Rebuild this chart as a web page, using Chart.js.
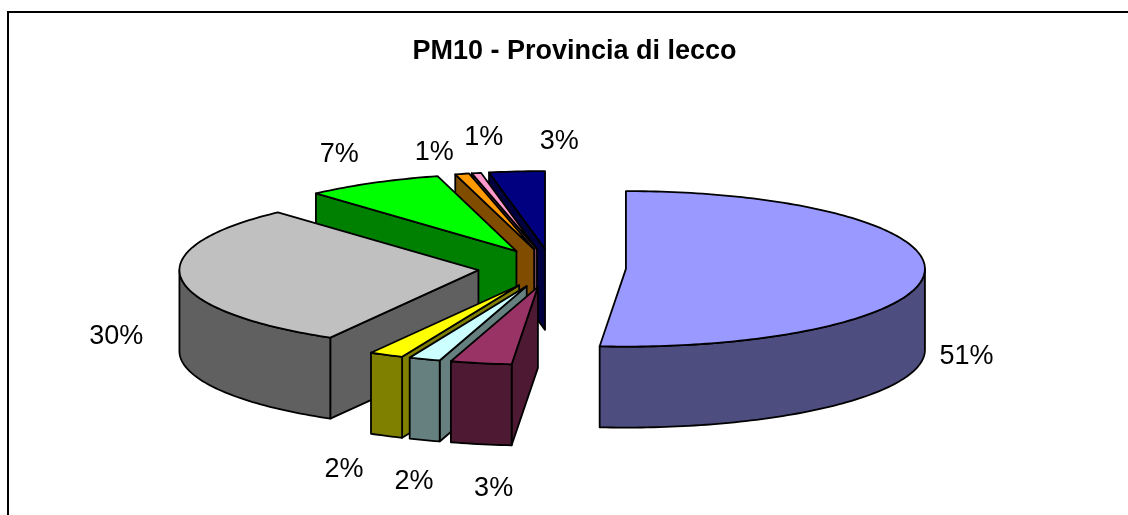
<!DOCTYPE html>
<html><head><meta charset="utf-8">
<style>html,body{margin:0;padding:0;background:#fff}#w{width:1128px;height:515px}</style>
<script src="https://cdn.jsdelivr.net/npm/chart.js@4/dist/chart.umd.min.js"></script>
</head><body><div id="w"><canvas id="c" width="1128" height="515"></canvas></div>
<script>
const categories = ['A','B','C','D','E','F','G','H','I'];
const values = [51.4, 3.3, 1.7, 1.85, 30.05, 7.45, 0.75, 0.5, 3];
const topColors = ['#9999FF','#993366','#CCFFFF','#FFFF00','#C0C0C0','#00FF00','#FF9900','#FF99CC','#000080'];
const wallColors = ['#4D4D80','#4D1933','#668080','#808000','#606060','#008000','#804C00','#804C66','#000040'];
const labelNudge = [[14,3],[18,37],[-1,35],[-30,27],[-37,-24],[-20,-22],[-21,-14],[13,-28],[45,-23]];

const CX = 552, CY = 268, SY = 0.26, EXPLODE = 74, DEPTH = 81, FONT = '27px "Liberation Sans", Arial, sans-serif';

function geom(a){
  const p = a.getProps(['startAngle','endAngle','outerRadius']);
  const mid = (p.startAngle + p.endAngle) / 2;
  const ox = CX + EXPLODE * Math.cos(mid), oy = EXPLODE * Math.sin(mid);
  const P = (t, r) => [ox + (r===undefined?p.outerRadius:r) * Math.cos(t), CY + SY * (oy + (r===undefined?p.outerRadius:r) * Math.sin(t))];
  return {s:p.startAngle, e:p.endAngle, mid, ox, oy, P, V:P(0,0), R:p.outerRadius};
}
function arcPts(g, s, e){
  const n = Math.max(2, Math.ceil((e - s) / 0.02)), pts = [];
  for (let i = 0; i <= n; i++) pts.push(g.P(s + (e - s) * i / n));
  return pts;
}
function poly(ctx, pts, fill){
  ctx.beginPath();
  pts.forEach((q, i) => i ? ctx.lineTo(q[0], q[1]) : ctx.moveTo(q[0], q[1]));
  ctx.closePath();
  ctx.fillStyle = fill; ctx.fill(); ctx.stroke();
}
function wall(ctx, pts, fill){
  const down = pts.slice().reverse().map(q => [q[0], q[1] + DEPTH]);
  poly(ctx, pts.concat(down), fill);
}

const pie3d = {
  id: 'pie3d',
  beforeDraw(chart){
    const ctx = chart.ctx;
    ctx.save(); ctx.fillStyle = '#fff'; ctx.fillRect(0,0,1128,515);
    ctx.strokeStyle = '#000'; ctx.lineWidth = 2;
    ctx.beginPath(); ctx.moveTo(8, 515); ctx.lineTo(8, 12); ctx.lineTo(1128, 12); ctx.stroke();
    ctx.restore();
  },
  beforeDatasetDraw(chart){
    const ctx = chart.ctx, arcs = chart.getDatasetMeta(0).data;
    const order = arcs.map((a, i) => i).sort((i, j) => Math.sin(geom(arcs[i]).mid) - Math.sin(geom(arcs[j]).mid));
    ctx.save();
    ctx.lineJoin = 'round'; ctx.strokeStyle = '#000'; ctx.lineWidth = 1.8;
    order.forEach(i => {
      const a = arcs[i], g = geom(a), ps = g.P(g.s), pe = g.P(g.e), wc = wallColors[i];
      if (ps[0] < g.V[0]) wall(ctx, [g.V, ps], wc);
      if (g.V[0] < pe[0]) wall(ctx, [pe, g.V], wc);
      const s = Math.max(g.s, 0), e = Math.min(g.e, Math.PI);
      if (e > s) wall(ctx, arcPts(g, s, e), wc);
      ctx.save();
      ctx.translate(g.ox - a.x, CY);
      ctx.scale(1, SY);
      ctx.translate(0, g.oy - a.y);
      a.draw(ctx);
      ctx.restore();
      ctx.beginPath();
      [g.V].concat(arcPts(g, g.s, g.e)).forEach((q, k) => k ? ctx.lineTo(q[0], q[1]) : ctx.moveTo(q[0], q[1]));
      ctx.closePath(); ctx.stroke();
    });
    ctx.fillStyle = '#000'; ctx.font = FONT; ctx.textAlign = 'center'; ctx.textBaseline = 'middle';
    arcs.forEach((a, i) => {
      const g = geom(a), q = g.P(g.mid, g.R + 28), front = Math.sin(g.mid) > 0 ? DEPTH : 0;
      ctx.fillText(Math.round(values[i]) + '%', q[0] + labelNudge[i][0], q[1] + front + labelNudge[i][1]);
    });
    ctx.restore();
    return false;
  }
};

new Chart(document.getElementById('c'), {
  type: 'pie',
  data: { labels: categories, datasets: [{ data: values, backgroundColor: topColors, borderWidth: 0, clip: false }] },
  options: {
    responsive: false, animation: false, radius: 299,
    layout: { padding: { left: 21 } },
    plugins: {
      legend: { display: false }, tooltip: { enabled: false },
      title: { display: true, text: 'PM10 - Provincia di lecco', color: '#000', font: { family: '"Liberation Sans", Arial, sans-serif', size: 27, weight: 'bold' }, padding: { top: 35, bottom: 10 } }
    }
  },
  plugins: [pie3d]
});
</script></body></html>
